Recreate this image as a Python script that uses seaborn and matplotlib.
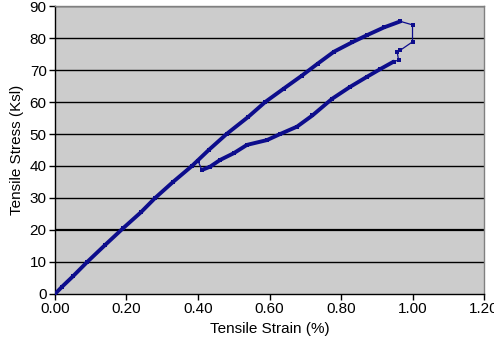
import matplotlib
matplotlib.use("Agg")
import matplotlib.pyplot as plt
import seaborn as sns
import pandas as pd

# Loading branch (strain %, stress ksi)
load_strain = [0.0, 0.02, 0.05, 0.09, 0.14, 0.19, 0.24, 0.28, 0.33, 0.383,
               0.43, 0.48, 0.54, 0.588, 0.64, 0.69, 0.735, 0.78, 0.83, 0.873, 0.92, 0.966]
load_stress = [0.0, 2.3, 5.5, 10.0, 15.3, 20.5, 25.5, 30.0, 35.0, 40.0,
               45.0, 50.0, 55.3, 60.0, 64.2, 68.2, 72.0, 75.7, 78.6, 80.9, 83.3, 85.2]
# Hook at the top right
hook_strain = [0.966, 1.0, 1.0, 0.966, 0.957, 0.961, 0.947]
hook_stress = [85.2, 84.1, 78.8, 76.2, 75.7, 73.1, 72.6]
# Unloading branch
unload_strain = [0.947, 0.91, 0.873, 0.825, 0.775, 0.72, 0.677, 0.630, 0.593, 0.537,
                 0.50, 0.462, 0.434, 0.411]
unload_stress = [72.6, 70.3, 67.9, 64.7, 61.0, 55.8, 52.3, 50.0, 48.1, 46.6,
                 44.0, 41.9, 39.8, 38.75]
# Short connector back to the loading branch
link_strain = [0.411, 0.40]
link_stress = [38.75, 41.6]

x_ticks = [0.0, 0.2, 0.4, 0.6, 0.8, 1.0, 1.2]
y_ticks = [0, 10, 20, 30, 40, 50, 60, 70, 80, 90]

sns.set_theme(style="white")
plt.rcParams['font.family'] = ['Liberation Sans', 'DejaVu Sans']

fig = plt.figure(figsize=(4.94, 3.49), dpi=100)
ax = fig.add_axes([0.1113, 0.1576, 0.9798 - 0.1113, 0.9828 - 0.1576])
ax.set_facecolor('#CCCCCC')

color = '#0D0D8C'

for y in y_ticks[1:]:
    ax.axhline(y, color='black', lw=1.6 if y == 20 else 1.0, zorder=1)

def draw(xs, ys, lw):
    df = pd.DataFrame({'x': xs, 'y': ys})
    sns.lineplot(data=df, x='x', y='y', sort=False, estimator=None, ax=ax,
                 color=color, lw=lw, marker='s', markersize=3,
                 markeredgewidth=0, zorder=3)

draw(load_strain, load_stress, 2.8)
draw(unload_strain, unload_stress, 2.8)
draw(hook_strain, hook_stress, 0.9)
draw(link_strain, link_stress, 0.9)

ax.set_xlim(0, 1.2)
ax.set_ylim(0, 90)
ax.set_xticks(x_ticks)
ax.set_xticklabels([f"{v:.2f}" for v in x_ticks])
ax.set_yticks(y_ticks)
ax.set_yticklabels([str(v) for v in y_ticks])
ax.tick_params(axis='both', labelsize=11, direction='out', length=4, width=1,
               color='black', bottom=True, left=True, pad=2, labelcolor='black')
ax.set_xlabel('Tensile Strain (%)', fontsize=11, color='black', labelpad=4)
ax.set_ylabel('Tensile Stress (Ksl)', fontsize=11, color='black', labelpad=4)

for s in ['left', 'bottom']:
    ax.spines[s].set_color('black')
    ax.spines[s].set_linewidth(1.0)
for s in ['top', 'right']:
    ax.spines[s].set_color('#808080')
    ax.spines[s].set_linewidth(1.0)

fig.savefig('out.png', dpi=100, facecolor='white')
